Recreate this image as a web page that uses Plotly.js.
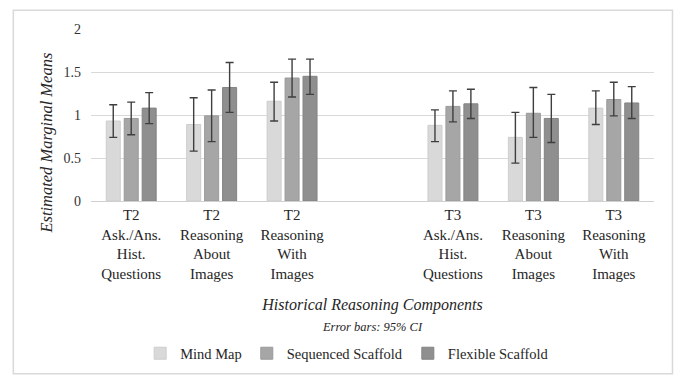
<!DOCTYPE html>
<html>
<head>
<meta charset="utf-8">
<script src="https://cdn.plot.ly/plotly-3.0.1.min.js"></script>
<style>html,body{margin:0;padding:0;background:#fff;}#chart{width:678px;height:375px;}</style>
</head>
<body>
<div id="chart"></div>
<script>
const categories = [
  "T2<br>Ask./Ans.<br>Hist.<br>Questions",
  "T2<br>Reasoning<br>About<br>Images",
  "T2<br>Reasoning<br>With<br>Images",
  " ",
  "T3<br>Ask./Ans.<br>Hist.<br>Questions",
  "T3<br>Reasoning<br>About<br>Images",
  "T3<br>Reasoning<br>With<br>Images"
];
const seriesNames = ["Mind Map", "Sequenced Scaffold", "Flexible Scaffold"];

const mindMap   = [0.93, 0.89, 1.16, null, 0.88, 0.74, 1.08];
const mindMapHi = [1.12, 1.20, 1.38, null, 1.06, 1.03, 1.28];
const mindMapLo = [0.74, 0.58, 0.93, null, 0.69, 0.44, 0.89];

const sequenced   = [0.96, 0.99, 1.43, null, 1.10, 1.02, 1.18];
const sequencedHi = [1.15, 1.29, 1.65, null, 1.28, 1.32, 1.38];
const sequencedLo = [0.77, 0.69, 1.21, null, 0.92, 0.74, 0.99];

const flexible   = [1.08, 1.32, 1.45, null, 1.13, 0.96, 1.14];
const flexibleHi = [1.26, 1.61, 1.65, null, 1.30, 1.24, 1.33];
const flexibleLo = [0.90, 1.03, 1.24, null, 0.96, 0.68, 0.96];

const yTickVals = [0, 0.5, 1, 1.5, 2];
const yTickText = ["0", "0.5", "1", "1.5", "2"];

const FONT = "Times New Roman, Liberation Serif, DejaVu Serif, serif";
const fills = ["#d9d9d9", "#a6a6a6", "#8f8f8f"];
const edges = ["#cdcdcd", "#9a9a9a", "#838383"];

function mk(i, vals, hi, lo) {
  return {
    type: "bar",
    name: seriesNames[i],
    x: categories,
    y: vals,
    marker: {color: fills[i], line: {color: edges[i], width: 1}},
    error_y: {
      type: "data", symmetric: false,
      array: vals.map((v, k) => v == null ? null : hi[k] - v),
      arrayminus: vals.map((v, k) => v == null ? null : v - lo[k]),
      color: "#3f3f3f", thickness: 1.4, width: 4
    },
    hoverinfo: "skip"
  };
}

const data = [
  mk(0, mindMap, mindMapHi, mindMapLo),
  mk(1, sequenced, sequencedHi, sequencedLo),
  mk(2, flexible, flexibleHi, flexibleLo)
];

const L = 90.7, R = 654, T = 28.7, B = 200.7;
const W = R - L, H = B - T;
const px = x => (x - L) / W;
const py = y => (B - y) / H;

const layout = {
  width: 678, height: 375,
  margin: {l: L, r: 678 - R, t: T, b: 375 - B, autoexpand: false},
  paper_bgcolor: "#ffffff", plot_bgcolor: "#ffffff",
  font: {family: FONT, color: "#262626"},
  barmode: "group", bargap: 0.33, bargroupgap: 0.22,
  showlegend: true,
  legend: {
    orientation: "h", x: px(347), xanchor: "center", y: py(353), yanchor: "middle",
    font: {family: FONT, size: 14.5, color: "#262626"},
    itemwidth: 30, traceorder: "normal", bgcolor: "rgba(0,0,0,0)"
  },
  xaxis: {
    type: "category", categoryorder: "array", categoryarray: categories,
    showgrid: false, zeroline: false, showline: true, linecolor: "#d0d0d0", linewidth: 1,
    ticks: "", tickfont: {family: FONT, size: 15, color: "#262626"},
    automargin: false,
    title: {
      text: "<i>Historical Reasoning Components</i><br><span style='font-size:12.5px'><i>Error bars: 95% CI</i></span>",
      font: {family: FONT, size: 16, color: "#262626"},
      standoff: 18
    }
  },
  yaxis: {
    range: [0, 2], tickvals: yTickVals, ticktext: yTickText,
    showgrid: true, gridcolor: "#d9d9d9", gridwidth: 1,
    zeroline: false, showline: false, ticks: "",
    tickfont: {family: FONT, size: 14, color: "#333333"},
    ticklabelstandoff: 9,
    automargin: false
  },
  annotations: [{
    text: "<i>Estimated Marginal Means</i>",
    xref: "paper", yref: "paper", x: px(46), y: py(143),
    xanchor: "center", yanchor: "middle", textangle: -90, showarrow: false,
    font: {family: FONT, size: 16.5, color: "#262626"}
  }],
  shapes: [{
    type: "rect", xref: "paper", yref: "paper",
    x0: px(13), x1: px(672.5), y0: py(373.5), y1: py(10),
    line: {color: "#d9d9d9", width: 1.5}, fillcolor: "rgba(0,0,0,0)", layer: "below"
  }]
};

Plotly.newPlot("chart", data, layout, {staticPlot: true, displayModeBar: false});
</script>
</body>
</html>
